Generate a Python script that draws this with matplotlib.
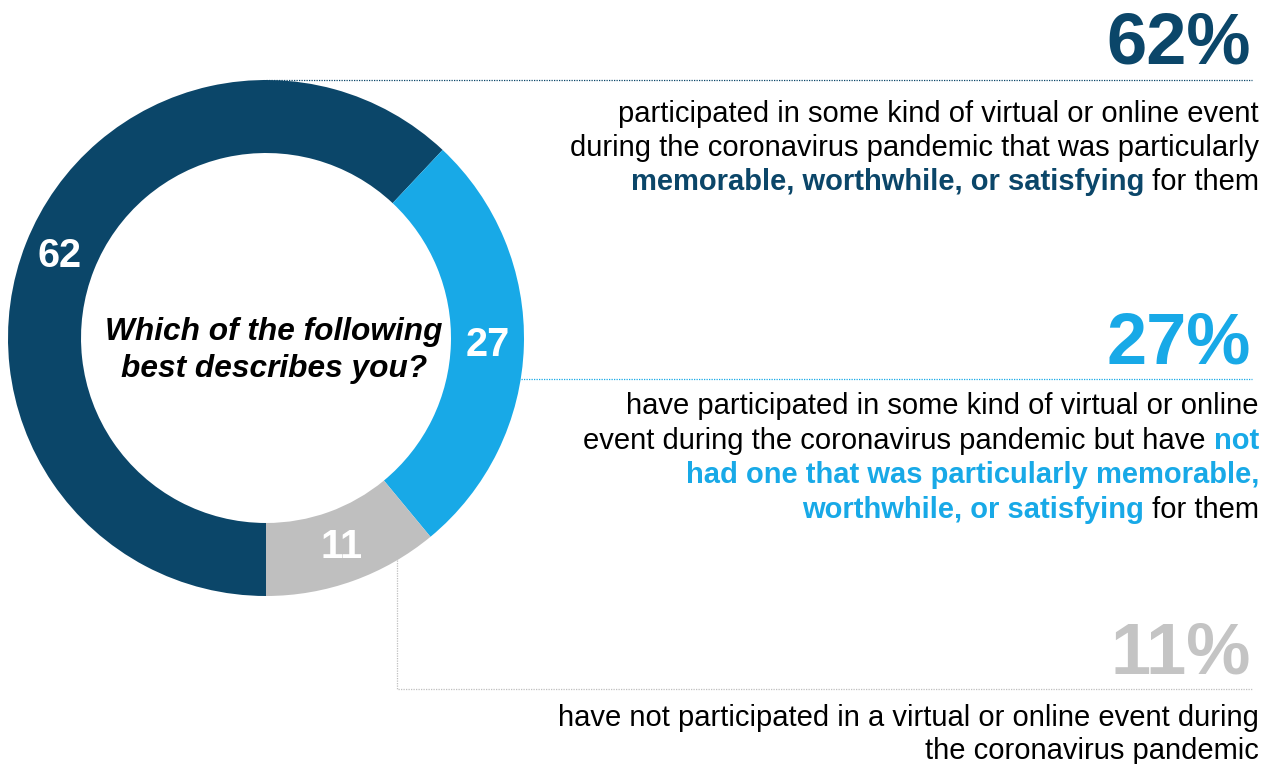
import numpy as np
import matplotlib
matplotlib.use("Agg")
import matplotlib.pyplot as plt

plt.rcParams['font.family'] = ['Liberation Sans', 'DejaVu Sans']

# Data
values = [62, 27, 11]
colors = ['#0B4669', '#18A9E7', '#BFBFBF']
big_colors = ['#0B4669', '#18A9E7', '#C4C4C4']
question = ["Which of the following", "best describes you?"]

# description lines: list of (text, bold, coloured) parts per line
desc_62 = [
    [("participated in some kind of virtual or online event", False, False)],
    [("during the coronavirus pandemic that was particularly", False, False)],
    [("memorable, worthwhile, or satisfying", True, True), (" for them", False, False)],
]
desc_27 = [
    [("have participated in some kind of virtual or online", False, False)],
    [("event during the coronavirus pandemic but have ", False, False), ("not", True, True)],
    [("had one that was particularly memorable,", True, True)],
    [("worthwhile, or satisfying", True, True), (" for them", False, False)],
]
desc_11 = [
    [("have not participated in a virtual or online event during", False, False)],
    [("the coronavirus pandemic", False, False)],
]

W, H = 1268, 764
fig = plt.figure(figsize=(W / 100, H / 100), dpi=100)

# overlay axes in pixel coordinates
ov = fig.add_axes([0, 0, 1, 1], zorder=1)
ov.set_xlim(0, W)
ov.set_ylim(H, 0)
ov.axis('off')

# donut
cx, cy, R = 266, 338, 258
pax = fig.add_axes([(cx - R) / W, (H - cy - R) / H, 2 * R / W, 2 * R / H], zorder=0)
wedges, _, autotexts = pax.pie(values, colors=colors, startangle=270, counterclock=False,
                               wedgeprops=dict(width=0.283, linewidth=0),
                               autopct=lambda p: f'{p:.0f}', pctdistance=0.86)
for t in autotexts:
    t.set_color('white')
    t.set_fontsize(28.5)
    t.set_fontweight('bold')
pax.set_xlim(-1, 1)
pax.set_ylim(-1, 1)
pax.axis('off')

ov.text(274, 340, question[0], ha='center', va='baseline', fontsize=22.8,
        fontweight='bold', fontstyle='italic', color='black')
ov.text(274, 377, question[1], ha='center', va='baseline', fontsize=22.8,
        fontweight='bold', fontstyle='italic', color='black')

renderer = fig.canvas.get_renderer()


def rich_line(x_right, y, parts, hi_color, size=21):
    x = x_right
    for txt, bold, col in reversed(parts):
        t = ov.text(x, y, txt, ha='right', va='baseline', fontsize=size,
                    fontweight='bold' if bold else 'normal',
                    color=hi_color if col else 'black')
        bb = t.get_window_extent(renderer)
        x -= bb.width


xr = 1259
for i, line in enumerate(desc_62):
    rich_line(xr, 122 + 34 * i, line, colors[0])
for i, line in enumerate(desc_27):
    rich_line(xr, 414 + 34.7 * i, line, colors[1])
for i, line in enumerate(desc_11):
    rich_line(xr, 726 + 33 * i, line, colors[2])

# big percentages
big_y = [63, 364, 674]
for v, c, y in zip(values, big_colors, big_y):
    ov.text(1251, y, f'{v}%', ha='right', va='baseline', fontsize=52,
            fontweight='bold', color=c)

# leader lines
# 62: from top of donut
ov.plot([cx, 1252], [cy - R, cy - R], color=colors[0], lw=0.9, ls=(0, (1, 1)))
# 27: horizontal from outer edge
y27 = 379
x27 = cx + np.sqrt(R ** 2 - (y27 - cy) ** 2)
ov.plot([x27, 1252], [y27, y27], color=colors[1], lw=0.9, ls=(0, (1, 1)))
# 11: down then across
x11 = 397
y11 = cy + np.sqrt(R ** 2 - (x11 - cx) ** 2)
ov.plot([x11, x11, 1252], [y11, 689, 689], color='#BFBFBF', lw=0.9, ls=(0, (1, 1)))

fig.savefig('out.png', dpi=100, facecolor='white')
